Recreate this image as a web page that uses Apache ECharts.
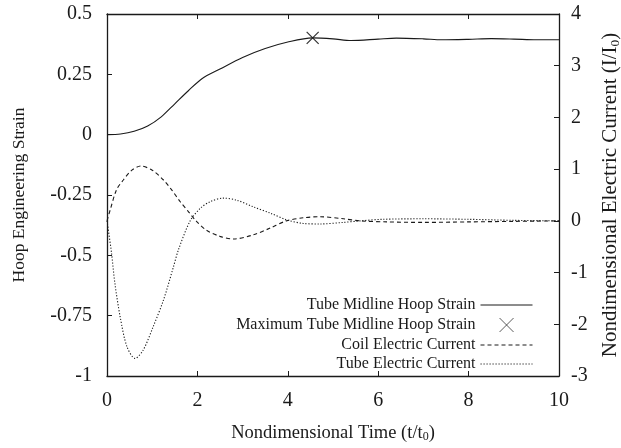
<!DOCTYPE html>
<html><head><meta charset="utf-8">
<script src="https://cdn.jsdelivr.net/npm/echarts@6/dist/echarts.min.js"></script>
<style>html,body{margin:0;padding:0;background:#fff}#c{width:621px;height:448px}</style>
</head><body><div id="c"></div>
<script>
// Strain series (left axis)
var timeStrain = [0,0.3,0.6,0.9,1.2,1.5,1.8,2.1,2.5,3.0,3.5,4.0,4.55,5.0,5.4,6.0,6.4,7.0,7.4,8.0,8.5,9.0,9.5,10];
var strain     = [0,0.003,0.014,0.036,0.074,0.128,0.182,0.232,0.272,0.32,0.357,0.384,0.401,0.397,0.390,0.396,0.400,0.397,0.393,0.395,0.398,0.396,0.393,0.393];
// Maximum strain point
var maxTime = [4.55];
var maxStrain = [0.401];
// Coil electric current (right axis)
var timeCoil = [0,0.07,0.21,0.36,0.55,0.75,1.0,1.25,1.43,1.62,1.8,1.98,2.2,2.5,2.8,3.24,3.61,3.97,4.34,4.71,5.23,5.6,6.2,7,8,9,10];
var coil     = [0,0.21,0.6,0.79,0.98,1.06,0.98,0.79,0.6,0.37,0.18,-0.01,-0.18,-0.3,-0.35,-0.27,-0.14,0.0,0.06,0.08,0.04,0.0,-0.02,-0.03,-0.02,-0.01,0];
// Tube electric current (right axis)
var timeTube = [0,0.1,0.175,0.29,0.44,0.62,0.8,1.02,1.25,1.47,1.58,1.84,2.06,2.28,2.57,2.87,3.24,3.61,3.97,4.34,4.71,5.23,5.6,6.1,7,8,9,10];
var tube     = [0,-0.62,-1.21,-1.85,-2.43,-2.66,-2.5,-2.05,-1.53,-0.89,-0.56,0.0,0.24,0.37,0.44,0.40,0.27,0.15,0.02,-0.05,-0.06,-0.03,0.0,0.03,0.04,0.03,0.01,0];
// Names
var names = ['Tube Midline Hoop Strain','Maximum Tube Midline Hoop Strain','Coil Electric Current','Tube Electric Current'];

function zip(a,b){return a.map(function(v,i){return [v,b[i]];});}
var FONT = 'Liberation Serif';
var INK = '#1a1a1a';
var xSym = 'path://M0,0L10,10M10,0L0,10';

var chart = echarts.init(document.getElementById('c'));
var legendTops = [297, 317, 337, 356];
var legends = names.map(function(n,i){
  var isMarker = (i === 1);
  return {
    data: [n],
    right: isMarker ? 107 : 88, top: legendTops[i], align: 'right', padding: 0,
    itemWidth: isMarker ? 14 : 52, itemHeight: 14, itemGap: 0, selectedMode: false,
    itemStyle: isMarker ? {color: 'transparent', borderColor: INK, borderWidth: 0.9}
                        : {color: 'transparent', borderWidth: 0, borderColor: 'transparent'},
    lineStyle: {width: 1},
    textStyle: {fontFamily: FONT, fontSize: 16, color: INK, padding: isMarker ? [0, 19, 0, 0] : 0}
  };
});
var tickStyle = {show:true, inside:true, length:5, lineStyle:{color:INK, width:1}};
var lineStyleAx = {show:true, onZero:false, lineStyle:{color:INK, width:1.3}};
chart.setOption({
  animation: false,
  textStyle: {fontFamily: FONT},
  grid: {left: 107, right: 62, top: 14, bottom: 72, containLabel: false, outerBoundsMode: 'none'},
  legend: legends,
  xAxis: [{
    type: 'value', min: 0, max: 10, interval: 2,
    axisLine: lineStyleAx, axisTick: tickStyle, splitLine: {show:false},
    axisLabel: {fontFamily: FONT, fontSize: 20, color: INK, margin: 15},
    name: 'Nondimensional Time (t/t{s|0})', nameLocation: 'middle', nameGap: 47,
    nameTextStyle: {fontFamily: FONT, fontSize: 18.5, color: INK,
      rich: {s: {fontFamily: FONT, fontSize: 12, color: INK, verticalAlign: 'bottom', padding: [8,0,0,0]}}}
  },{
    type: 'value', position: 'top', min: 0, max: 10, interval: 2,
    axisLine: lineStyleAx, axisTick: tickStyle, splitLine: {show:false}, axisLabel: {show:false}
  }],
  yAxis: [{
    type: 'value', min: -1, max: 0.5, interval: 0.25,
    axisLine: lineStyleAx, axisTick: tickStyle, splitLine: {show:false},
    axisLabel: {fontFamily: FONT, fontSize: 20, color: INK, margin: 15},
    name: 'Hoop Engineering Strain', nameLocation: 'middle', nameGap: 79, nameRotate: 90,
    nameTextStyle: {fontFamily: FONT, fontSize: 17.5, color: INK}
  },{
    type: 'value', min: -3, max: 4, interval: 1, position: 'right',
    axisLine: lineStyleAx, axisTick: tickStyle, splitLine: {show:false},
    axisLabel: {fontFamily: FONT, fontSize: 20, color: INK, margin: 12},
    name: 'Nondimensional Electric Current (I/I{s|0})', nameLocation: 'middle', nameGap: 40, nameRotate: 90,
    nameTextStyle: {fontFamily: FONT, fontSize: 21, color: INK,
      rich: {s: {fontFamily: FONT, fontSize: 13.5, color: INK, verticalAlign: 'bottom', padding: [9,0,0,0]}}}
  }],
  series: [{
    name: names[0], type: 'line', xAxisIndex: 0, yAxisIndex: 0, data: zip(timeStrain, strain),
    smooth: 0.3, symbol: 'none', lineStyle: {color: INK, width: 1.1}, itemStyle: {color: INK}
  },{
    name: names[1], type: 'scatter', xAxisIndex: 0, yAxisIndex: 0, data: zip(maxTime, maxStrain),
    symbol: xSym, symbolSize: 12,
    itemStyle: {color: 'transparent', borderColor: '#000', borderWidth: 1.2}
  },{
    name: names[2], type: 'line', xAxisIndex: 0, yAxisIndex: 1, data: zip(timeCoil, coil),
    smooth: 0.3, symbol: 'none', lineStyle: {color: INK, width: 1.1, type: [4,3]}, itemStyle: {color: INK}
  },{
    name: names[3], type: 'line', xAxisIndex: 0, yAxisIndex: 1, data: zip(timeTube, tube),
    smooth: 0.3, symbol: 'none', lineStyle: {color: INK, width: 1.1, type: [1.2,1.8]}, itemStyle: {color: INK}
  }]
});
</script></body></html>
